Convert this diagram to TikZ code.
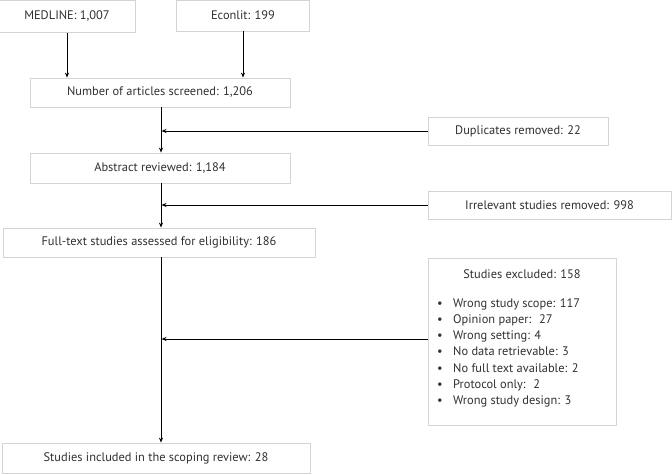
\documentclass[tikz,border=0pt]{standalone}
\usepackage{fontspec}
\setmainfont{PT Sans}
\usetikzlibrary{arrows.meta}
\definecolor{boxline}{HTML}{D4D4D4}
\definecolor{cornerline}{HTML}{8C8C8C}
\definecolor{txt}{HTML}{303030}
\begin{document}
\begin{tikzpicture}[x=1pt,y=-1pt,
  box/.style={draw=boxline, line width=0.8pt, inner sep=0pt, text=txt, font=\fontsize{12.4}{14}\selectfont,
    append after command={
      \pgfextra{\let\ln\tikzlastnode}
      [draw=cornerline, line width=0.9pt]
      ([xshift=7pt]\ln.north west) -- (\ln.north west) -- ([yshift=-7pt]\ln.north west)
      ([xshift=-7pt]\ln.north east) -- (\ln.north east) -- ([yshift=-7pt]\ln.north east)
      ([xshift=7pt]\ln.south west) -- (\ln.south west) -- ([yshift=7pt]\ln.south west)
      ([xshift=-7pt]\ln.south east) -- (\ln.south east) -- ([yshift=7pt]\ln.south east)
    }},
  arr/.style={-{Stealth[length=5pt,width=4pt]}, line width=0.9pt, black},
  ln/.style={line width=0.9pt, black}]
\useasboundingbox (0,0) rectangle (672,474);
\coordinate (sp) at (161,0);
\node[box, minimum width=136pt, minimum height=32pt] (med) at (67,16.5) {MEDLINE: 1,007};
\node[box, minimum width=133pt, minimum height=31pt] (econ) at (243,15.5) {Econlit: 199};
\node[box, minimum width=260pt, minimum height=29pt] (scr) at (160,92.5) {Number of articles screened: 1,206};
\node[box, minimum width=180pt, minimum height=28pt] (dup) at (518,131) {Duplicates removed: 22};
\node[box, minimum width=260pt, minimum height=30pt] (abs) at (160,168) {Abstract reviewed: 1,184};
\node[box, minimum width=243pt, minimum height=28pt] (irr) at (549.5,205) {Irrelevant studies removed: 998};
\node[box, minimum width=312pt, minimum height=29pt] (full) at (159,242.5) {Full-text studies assessed for eligibility: 186};
\node[box, minimum width=188pt, minimum height=167pt] (excl) at (522,341.5) {};
\node[text=txt, font=\fontsize{12.4}{14}\selectfont, anchor=center] (extitle) at (522,274) {Studies excluded: 158};
\node[text=txt, font=\fontsize{12.4}{16.3}\selectfont, anchor=north west, align=left, inner sep=0pt] (exlist) at (437,298)
 {\makebox[16pt][l]{\textbullet}Wrong study scope: 117\\
  \makebox[16pt][l]{\textbullet}Opinion paper:~ 27\\
  \makebox[16pt][l]{\textbullet}Wrong setting: 4\\
  \makebox[16pt][l]{\textbullet}No data retrievable: 3\\
  \makebox[16pt][l]{\textbullet}No full text available: 2\\
  \makebox[16pt][l]{\textbullet}Protocol only:~ 2\\
  \makebox[16pt][l]{\textbullet}Wrong study design: 3};
\node[box, minimum width=308pt, minimum height=30pt] (incl) at (156,458) {Studies included in the scoping review: 28};
\draw[arr] (med.south) -- (med.south |- scr.north);
\draw[arr] (econ.south) -- (econ.south |- scr.north);
\draw[arr] (scr.south -| sp) -- (abs.north -| sp);
\draw[arr] (abs.south -| sp) -- (full.north -| sp);
\draw[arr] (full.south -| sp) -- (incl.north -| sp);
\draw[arr] (dup.west) -- ([xshift=0.5pt]dup.west -| sp);
\draw[arr] (irr.west) -- ([xshift=0.5pt]irr.west -| sp);
\draw[arr] (excl.west |- 0,339) -- ([xshift=0.5pt]sp |- 0,339);
\end{tikzpicture}
\end{document}
